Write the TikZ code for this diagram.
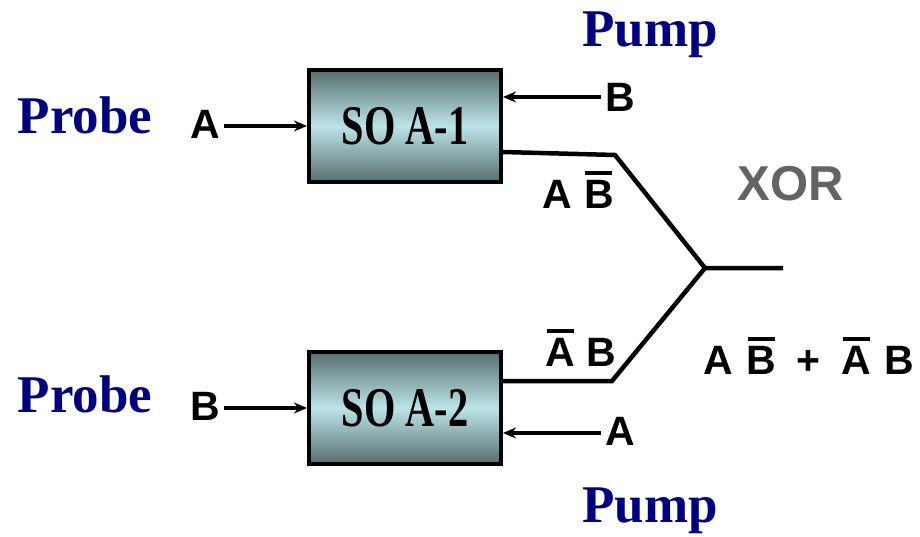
\documentclass[tikz,border=0pt]{standalone}
\usepackage{fontspec}
\setmainfont{Liberation Serif}
\setsansfont{Liberation Sans}
\usetikzlibrary{arrows.meta, positioning, calc}

\definecolor{probeblue}{RGB}{0,0,128}
\definecolor{soaedge}{RGB}{86,110,110}
\definecolor{soamid}{RGB}{188,228,232}
\definecolor{xorgray}{RGB}{99,99,99}

% letter with a bar over it (logical NOT)
\newcommand{\nbar}[1]{{\setbox0\hbox{#1}\rlap{\hbox to\wd0{\hss\raisebox{1.2\ht0}{\rule{0.9\wd0}{0.13\ht0}}\hss}}\box0}}

\begin{document}
\begin{tikzpicture}[
  x=1pt, y=-1pt,
  soa/.style={draw, line width=4pt, rectangle, minimum width=192pt, minimum height=112pt,
    top color=soaedge, bottom color=soaedge, middle color=soamid,
    font=\bfseries\fontsize{56}{60}\selectfont},
  role/.style={text=probeblue, font=\bfseries\fontsize{53}{60}\selectfont},
  sig/.style={font=\sffamily\bfseries\fontsize{41}{46}\selectfont, inner sep=4pt},
  sigarrow/.style={-{Stealth[length=13pt, width=11pt]}, line width=3.6pt},
  fiber/.style={line width=4.5pt, line join=miter}
]
\useasboundingbox (0,0) rectangle (920,536);

% Nodes (the two amplifiers)
\node[soa] (soa1) at (405,126) {\scalebox{0.72}[1]{SO A-1}};
\node[soa] (soa2) at (405,408) {\scalebox{0.72}[1]{SO A-2}};

% Probe and pump labels
\node[role] (probe1) at (85,115) {Probe};
\node[role] (probe2) at (85,394) {Probe};
\node[role] (pump1) at (650,35) {Pump};
\node[role] (pump2) at (650,511) {Pump};

% Input signals
\node[sig] (inA) at (205,124) {A};
\node[sig] (inB) at (205,406) {B};
\node[sig] (pmB) at (620,97) {B};
\node[sig] (pmA) at (620,431) {A};

\draw[sigarrow] (inA.east |- soa1) -- (soa1);
\draw[sigarrow] (inB.east |- soa2) -- (soa2);
\draw[sigarrow] (pmB.west) -- (pmB.west -| soa1.east);
\draw[sigarrow] ($(pmA.west)+(0,2)$) -- ($(pmA.west -| soa2.east)+(0,2)$);

% Outputs combined at the junction
\coordinate (k1) at (615,155);
\coordinate (k2) at (612,381);
\coordinate (j) at (705,268);
\coordinate (xout) at (783,268);

\draw[fiber] ($(soa1.east)+(0,26)$) -- (k1) -- (j) -- (xout);
\draw[fiber] ($(soa2.east)+(0,-27)$) -- (k2) -- (j);

\node[sig] (out1) at (578,190) {A\hspace{12pt}\nbar{B}};
\node[sig] (out2) at (581,348) {\nbar{A}\hspace{12pt}B};

% Result
\node[text=xorgray, font=\sffamily\bfseries\fontsize{49}{54}\selectfont] (xor) at (791,184) {XOR};
\node[sig] (sum) at (809,356) {A\hspace{13pt}\nbar{B}\hspace{20pt}+\hspace{22pt}\nbar{A}\hspace{13pt}B};

\end{tikzpicture}
\end{document}
